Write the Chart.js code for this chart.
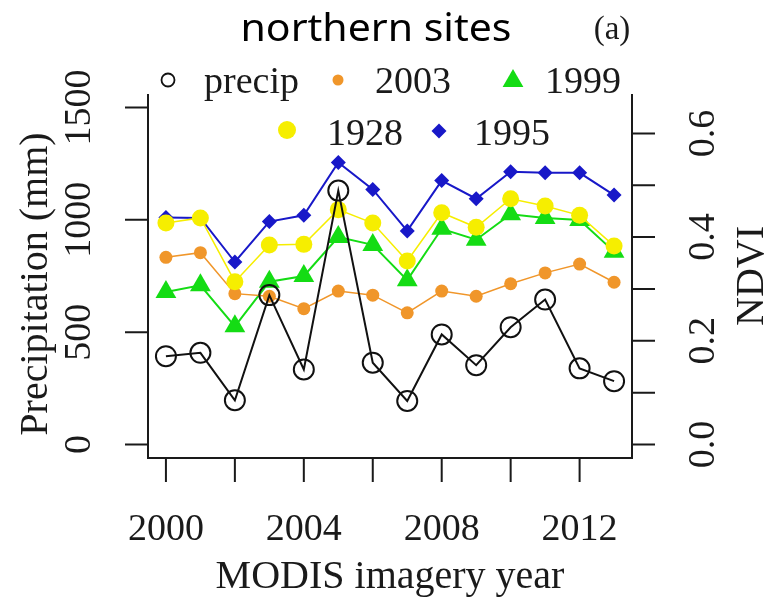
<!DOCTYPE html>
<html>
<head>
<meta charset="utf-8">
<script src="https://cdn.jsdelivr.net/npm/chart.js@4.4.0/dist/chart.umd.min.js"></script>
<style>
  html, body { margin: 0; padding: 0; background: #fff; }
  #wrap { width: 771px; height: 606px; }
</style>
</head>
<body>
<div id="wrap"><canvas id="ndviChart" width="771" height="606"></canvas></div>
<script>
// yearly precipitation (left axis) and mean NDVI per burn year (right axis)
const years = [2000, 2001, 2002, 2003, 2004, 2005, 2006, 2007, 2008, 2009, 2010, 2011, 2012, 2013];
const precip = [393, 408, 197, 665, 334, 1130, 364, 194, 490, 353, 522, 645, 339, 282];
const ndvi2003 = [0.361, 0.370, 0.291, 0.286, 0.262, 0.296, 0.288, 0.254, 0.296, 0.286, 0.310, 0.331, 0.348, 0.313];
const ndvi1999 = [0.294, 0.307, 0.228, 0.314, 0.325, 0.400, 0.385, 0.317, 0.416, 0.395, 0.444, 0.437, 0.433, 0.372];
const ndvi1928 = [0.427, 0.437, 0.314, 0.385, 0.386, 0.453, 0.427, 0.354, 0.447, 0.419, 0.474, 0.460, 0.442, 0.383];
const ndvi1995 = [0.438, 0.437, 0.352, 0.430, 0.442, 0.544, 0.492, 0.412, 0.509, 0.474, 0.526, 0.524, 0.524, 0.481];

const precipTicks = [0, 500, 1000, 1500];
const ndviTicks = [0, 0.1, 0.2, 0.3, 0.4, 0.5, 0.6];
const ndviTickLabels = ['0.0', '', '0.2', '', '0.4', '', '0.6'];
const yearTicks = [2000, 2002, 2004, 2006, 2008, 2010, 2012];
const yearTickLabels = ['2000', '', '2004', '', '2008', '', '2012'];

const SERIF = '"Liberation Serif", "Times New Roman", serif';
const INK = '#1a1a1a';

const colors = {
  precip: '#111111',
  y2003: '#F0962A',
  y1999: '#14DC14',
  y1928: '#F6EE00',
  y1995: '#1818C8'
};

const pts = arr => years.map((yr, i) => ({ x: yr, y: arr[i] }));

// small marker drawer for the legend, same geometry as chart.js point styles
function marker(ctx, style, x, y, r, fill, stroke, lw) {
  ctx.save();
  ctx.beginPath();
  if (style === 'circle') {
    ctx.arc(x, y, r, 0, Math.PI * 2);
  } else if (style === 'triangle') {
    for (let k = 0; k < 3; k++) {
      const a = k * 2 * Math.PI / 3;
      const px = x + Math.sin(a) * r, py = y - Math.cos(a) * r;
      k ? ctx.lineTo(px, py) : ctx.moveTo(px, py);
    }
    ctx.closePath();
  } else if (style === 'rectRot') {
    ctx.moveTo(x, y - r); ctx.lineTo(x + r, y); ctx.lineTo(x, y + r); ctx.lineTo(x - r, y);
    ctx.closePath();
  }
  if (fill) { ctx.fillStyle = fill; ctx.fill(); }
  if (stroke) { ctx.strokeStyle = stroke; ctx.lineWidth = lw; ctx.stroke(); }
  ctx.restore();
}

function rotText(ctx, text, x, y) {
  ctx.save();
  ctx.translate(x, y);
  ctx.rotate(-Math.PI / 2);
  ctx.fillText(text, 0, 0);
  ctx.restore();
}

// base-graphics style frame: open-top box, outward ticks, rotated y labels
const frame = {
  id: 'frame',
  afterDraw(chart) {
    const { ctx, chartArea: a, scales } = chart;
    const sx = scales.x, sl = scales.y, sr = scales.y1;
    ctx.save();
    ctx.strokeStyle = INK;
    ctx.fillStyle = INK;
    ctx.lineWidth = 2;

    ctx.beginPath();
    ctx.moveTo(a.left, a.top); ctx.lineTo(a.left, a.bottom);
    ctx.lineTo(a.right, a.bottom); ctx.lineTo(a.right, a.top);
    ctx.stroke();

    ctx.beginPath();
    precipTicks.forEach(v => {
      const py = sl.getPixelForValue(v);
      ctx.moveTo(a.left - 23, py); ctx.lineTo(a.left, py);
    });
    ndviTicks.forEach(v => {
      const py = sr.getPixelForValue(v);
      ctx.moveTo(a.right, py); ctx.lineTo(a.right + 23, py);
    });
    yearTicks.forEach(v => {
      const px = sx.getPixelForValue(v);
      ctx.moveTo(px, a.bottom); ctx.lineTo(px, a.bottom + 24);
    });
    ctx.stroke();

    ctx.font = '38px ' + SERIF;
    ctx.textAlign = 'center';
    ctx.textBaseline = 'middle';
    precipTicks.forEach(v => rotText(ctx, String(v), 80, sl.getPixelForValue(v)));
    ndviTicks.forEach((v, i) => {
      if (ndviTickLabels[i]) rotText(ctx, ndviTickLabels[i], 704, sr.getPixelForValue(v));
    });
    yearTicks.forEach((v, i) => {
      if (yearTickLabels[i]) ctx.fillText(yearTickLabels[i], sx.getPixelForValue(v), 530);
    });

    ctx.font = '40px ' + SERIF;
    ctx.fillText('MODIS imagery year', (a.left + a.right) / 2, 577);
    rotText(ctx, 'Precipitation (mm)', 36, (a.top + a.bottom) / 2 + 8);
    rotText(ctx, 'NDVI', 752, (a.top + a.bottom) / 2);

    // heading, stretched to the width of the original caption
    ctx.textBaseline = 'alphabetic';
    ctx.font = '38px "Noto Sans", "Open Sans", sans-serif';
    ctx.fillStyle = '#000';
    const head = 'northern sites';
    const hw = ctx.measureText(head).width;
    ctx.save();
    ctx.translate(376, 41);
    ctx.scale(271 / hw, 1);
    ctx.fillText(head, 0, 0);
    ctx.restore();
    ctx.font = '33px ' + SERIF;
    ctx.fillStyle = INK;
    ctx.fillText('(a)', 612, 39);

    // legend, two rows
    ctx.font = '38px ' + SERIF;
    ctx.textAlign = 'left';
    marker(ctx, 'circle', 168, 80, 6.5, null, colors.precip, 1.8);
    ctx.fillText('precip', 204, 93);
    marker(ctx, 'circle', 338, 80, 5.5, colors.y2003, null, 0);
    ctx.fillText('2003', 375, 93);
    marker(ctx, 'triangle', 513, 81, 12, colors.y1999, null, 0);
    ctx.fillText('1999', 545, 93);
    marker(ctx, 'circle', 287, 130, 9, colors.y1928, null, 0);
    ctx.fillText('1928', 327, 145);
    marker(ctx, 'rectRot', 439, 131, 7.5, colors.y1995, null, 0);
    ctx.fillText('1995', 474, 145);
    ctx.restore();
  }
};

const series = (label, arr, color, style, radius, lw, order) => ({
  label,
  data: pts(arr),
  yAxisID: 'y1',
  borderColor: color,
  borderWidth: lw,
  pointStyle: style,
  pointRadius: radius,
  pointBackgroundColor: color,
  pointBorderColor: color,
  pointBorderWidth: 0,
  tension: 0,
  clip: false,
  order
});

new Chart(document.getElementById('ndviChart'), {
  type: 'line',
  data: {
    datasets: [
      {
        label: 'precip',
        data: pts(precip),
        yAxisID: 'y',
        borderColor: colors.precip,
        borderWidth: 2,
        pointStyle: 'circle',
        pointRadius: 10,
        pointBackgroundColor: 'rgba(0,0,0,0)',
        pointBorderColor: colors.precip,
        pointBorderWidth: 2,
        tension: 0,
        clip: false,
        order: 0
      },
      series('1928', ndvi1928, colors.y1928, 'circle', 8.5, 1.5, 1),
      series('2003', ndvi2003, colors.y2003, 'circle', 6.5, 1.5, 2),
      series('1995', ndvi1995, colors.y1995, 'rectRot', 7.5, 2, 3),
      series('1999', ndvi1999, colors.y1999, 'triangle', 12, 2, 4)
    ]
  },
  options: {
    responsive: false,
    animation: false,
    events: [],
    layout: { padding: { left: 148, right: 139, top: 94, bottom: 148 } },
    plugins: { legend: { display: false }, tooltip: { enabled: false } },
    scales: {
      x: { type: 'linear', min: 1999.48, max: 2013.52, display: false },
      y: { type: 'linear', position: 'left', min: -60, max: 1560, display: false },
      y1: { type: 'linear', position: 'right', min: -0.026, max: 0.676, display: false }
    }
  },
  plugins: [frame]
});
</script>
</body>
</html>
